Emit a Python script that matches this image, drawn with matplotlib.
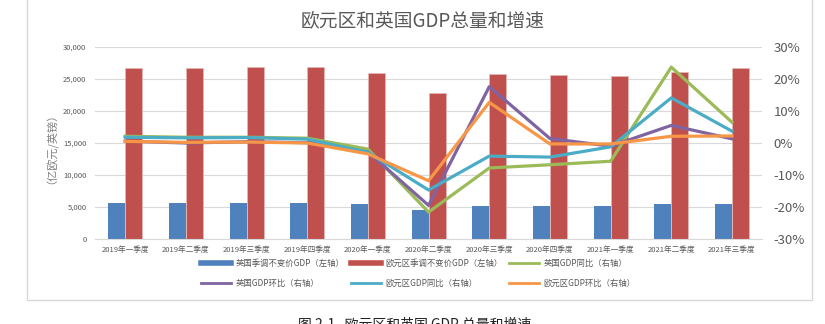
import numpy as np
import matplotlib
matplotlib.use("Agg")
import matplotlib.pyplot as plt
from matplotlib.lines import Line2D
from matplotlib.patches import Rectangle
from matplotlib.ticker import FuncFormatter

plt.rcParams['font.family'] = ['Noto Sans CJK SC', 'DejaVu Sans']

# --------------------------
# Dados
# --------------------------
quarters = ["2019年一季度", "2019年二季度", "2019年三季度", "2019年四季度",
            "2020年一季度", "2020年二季度", "2020年三季度", "2020年四季度",
            "2021年一季度", "2021年二季度", "2021年三季度"]

uk_gdp = [5600, 5620, 5650, 5650, 5500, 4500, 5200, 5230, 5200, 5400, 5450]
ez_gdp = [26700, 26750, 26850, 26850, 25900, 22850, 25800, 25650, 25500, 26150, 26700]

uk_yoy = [2.1, 1.8, 1.8, 1.5, -1.9, -21.6, -7.8, -6.8, -5.7, 23.7, 6.5]
uk_qoq = [0.6, 0.0, 0.4, 0.1, -2.8, -19.5, 17.6, 1.4, -1.0, 5.5, 1.3]
ez_yoy = [1.8, 1.6, 1.7, 1.2, -2.9, -14.7, -4.1, -4.4, -1.2, 14.1, 3.7]
ez_qoq = [0.5, 0.2, 0.3, 0.0, -3.4, -11.8, 12.7, -0.3, -0.3, 2.1, 2.2]

labels = ["英国季调不变价GDP（左轴）", "欧元区季调不变价GDP（左轴）", "英国GDP同比（右轴）",
          "英国GDP环比（右轴）", "欧元区GDP同比（右轴）", "欧元区GDP环比（右轴）"]

BLUE, RED = "#4F81BD", "#C0504D"
GREEN, PURPLE, CYAN, ORANGE = "#9BBB59", "#8064A2", "#4BACC6", "#F79646"
GRID = "#D9D9D9"
TXT = "#595959"

# --------------------------
# Figura
# --------------------------
fig = plt.figure(figsize=(8.25, 3.24), dpi=100)
ax = fig.add_axes([0.115, 0.2623, 0.809, 0.5927])
ax2 = ax.twinx()

x = np.arange(len(quarters))
w = 0.28
ax.bar(x - w / 2, uk_gdp, w, color=BLUE, zorder=2)
ax.bar(x + w / 2, ez_gdp, w, color=RED, edgecolor="#E6B9B8", linewidth=0.5, zorder=2)

ax.set_xlim(-0.5, len(quarters) - 0.5)
ax.set_ylim(0, 30000)
ax.set_yticks(range(0, 30001, 5000))
ax.yaxis.set_major_formatter(FuncFormatter(lambda v, p: f"{int(v):,}"))
ax.grid(axis="y", color=GRID, linewidth=0.8, zorder=0)
ax.set_axisbelow(True)
ax.set_xticks(x)
ax.set_xticklabels(quarters)
ax.tick_params(axis="x", length=0, labelsize=5.5, colors=TXT, pad=5)
ax.tick_params(axis="y", length=0, labelsize=5.5, colors=TXT, pad=6)
for s in ["top", "right", "left"]:
    ax.spines[s].set_visible(False)
ax.spines["bottom"].set_color(GRID)
ax.set_ylabel("（亿欧元/英镑）", fontsize=8, color="#808080", labelpad=8)

lw = 2.3
ax2.plot(x, uk_yoy, color=GREEN, lw=lw, zorder=3)
ax2.plot(x, uk_qoq, color=PURPLE, lw=lw, zorder=3)
ax2.plot(x, ez_yoy, color=CYAN, lw=lw, zorder=3)
ax2.plot(x, ez_qoq, color=ORANGE, lw=lw, zorder=3)
ax2.set_ylim(-30, 30)
ax2.set_yticks(range(-30, 31, 10))
ax2.yaxis.set_major_formatter(FuncFormatter(lambda v, p: f"{int(v)}%"))
ax2.tick_params(axis="y", length=0, labelsize=9.5, colors=TXT, pad=8)
for s in ax2.spines.values():
    s.set_visible(False)

fig.text(0.512, 0.935, "欧元区和英国GDP总量和增速", ha="center", va="center",
         fontsize=13.5, color=TXT)

# legenda em 2 linhas x 3 colunas (ordem por linha)
handles = [Line2D([], [], color=BLUE, lw=4), Line2D([], [], color=RED, lw=4),
           Line2D([], [], color=GREEN, lw=2), Line2D([], [], color=PURPLE, lw=2),
           Line2D([], [], color=CYAN, lw=2), Line2D([], [], color=ORANGE, lw=2)]
order = [0, 3, 1, 4, 2, 5]
leg = fig.legend([handles[i] for i in order], [labels[i] for i in order],
                 ncol=3, loc="center", bbox_to_anchor=(0.507, 0.157),
                 frameon=False, fontsize=6, handlelength=3.6, handletextpad=0.5,
                 columnspacing=0.8, labelspacing=1.3)
for t in leg.get_texts():
    t.set_color(TXT)

# moldura do grafico
fig.patches.append(Rectangle((27 / 825, 1 - 300 / 324), 785 / 825, 1,
                             transform=fig.transFigure, fill=False,
                             edgecolor=GRID, linewidth=1))

fig.text(298 / 825, 1 - 317 / 324, "图 2-1   欧元区和英国 GDP 总量和增速",
         ha="left", va="top", fontsize=10, color="#222222")

fig.savefig("out.png", dpi=100)
